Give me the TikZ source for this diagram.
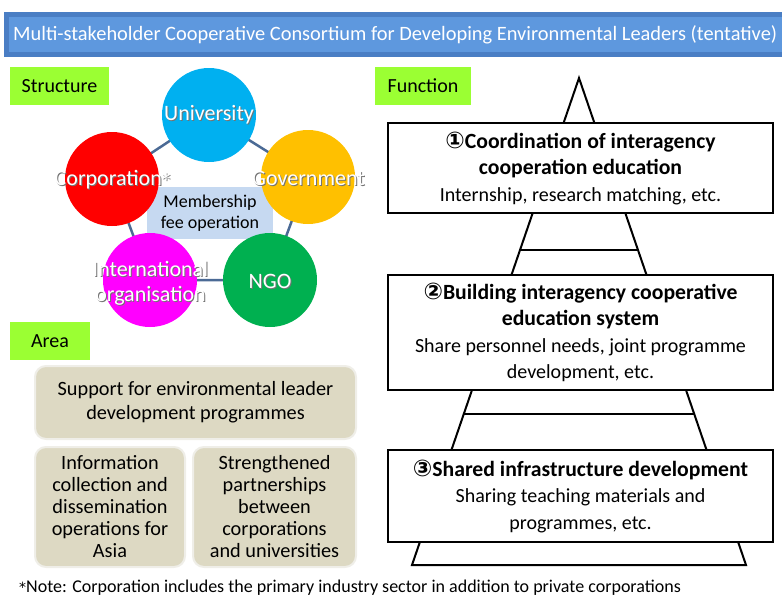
\documentclass[tikz,border=0pt]{standalone}
\usepackage{fontspec}
\setmainfont{Carlito}
\newfontfamily\symf{DejaVu Sans}
\definecolor{titleout}{HTML}{4A7EC4}
\definecolor{titlein}{HTML}{5E98DE}
\definecolor{lime}{HTML}{9BFF33}
\definecolor{cuniv}{HTML}{00B0F0}
\definecolor{ccorp}{HTML}{FF0000}
\definecolor{cgov}{HTML}{FFC000}
\definecolor{cngo}{HTML}{00B050}
\definecolor{cintl}{HTML}{FF00FF}
\definecolor{penta}{HTML}{4B6A95}
\definecolor{memb}{HTML}{C6D9F1}
\definecolor{tan}{HTML}{DDD9C3}
\definecolor{tanrim}{HTML}{EFEEE8}
\newcommand{\bigast}{{\symf\fontsize{17}{20}\selectfont *}}
\newcommand{\circnum}[1]{{\symf\fontsize{23}{26}\selectfont #1}}
\begin{document}
\begin{tikzpicture}[x=1pt,y=-1pt,
  tag/.style={fill=lime,inner sep=0pt,font=\fontsize{20}{24}\selectfont},
  actor/.style={circle,minimum size=94pt,inner sep=0pt},
  clab/.style={text=white,align=center,font=\fontsize{22}{25}\selectfont},
  cshadow/.style={text=black!55,align=center,font=\fontsize{22}{25}\selectfont},
  link/.style={draw=penta,line width=2.5pt},
  fbox/.style={draw=black,line width=2pt,fill=white,minimum width=385pt,align=center,inner sep=0pt,font=\fontsize{20}{26.5}\selectfont},
  abox/.style={draw=tanrim,line width=2pt,fill=tan,rounded corners=11pt,align=center,inner sep=0pt,font=\fontsize{20.3}{22}\selectfont},
  pyr/.style={draw=black,line width=2pt}]
\useasboundingbox (0,0) rectangle (782,598);
% title bar
\fill[titleout] (4,12) rectangle (782,57);
\fill[titlein] (9,17) rectangle (782,52);
\node[anchor=west,text=white,inner sep=0pt,font=\fontsize{20.4}{22}\selectfont] (title) at (13,35) {Multi-stakeholder Cooperative Consortium for Developing Environmental Leaders (tentative)};
% tags
\node[tag,minimum width=99pt,minimum height=38pt] (tstruct) at (59.5,86) {Structure};
\node[tag,minimum width=96pt,minimum height=38pt] (tfunc) at (423,86) {Function};
\node[tag,minimum width=80pt,minimum height=38pt] (tarea) at (50,341) {Area};
% structure
\coordinate (pu) at (209,115);
\coordinate (pc) at (112,179);
\coordinate (pg) at (308,177);
\coordinate (pn) at (270,280);
\coordinate (pi) at (150,280);
\draw[link] (pu) -- (pg) -- (pn) -- (pi) -- (pc) -- cycle;
\node[fill=memb,minimum width=126pt,minimum height=52pt,inner sep=0pt,align=center,font=\fontsize{18}{21}\selectfont] (memb) at (210,213) {Membership\\fee operation};
\node[actor,fill=cuniv] (univ) at (pu) {};
\node[actor,fill=ccorp] (corp) at (pc) {};
\node[actor,fill=cgov] (gov) at (pg) {};
\node[actor,fill=cngo] (ngo) at (pn) {};
\node[actor,fill=cintl] (intl) at (pi) {};
\node[cshadow] at ([shift={(1,1)}]univ) {University};
\node[clab] (luniv) at (univ) {University};
\node[cshadow] at (113.5,181) {Corporation\bigast};
\node[clab] (lcorp) at (112.5,180) {Corporation\bigast};
\node[cshadow] at (309.5,179) {Government};
\node[clab] (lgov) at (308.5,178) {Government};
\node[cshadow] at (271,282) {NGO};
\node[clab] (lngo) at (270,281) {NGO};
\node[cshadow] at (151.5,284) {International\\organisation};
\node[clab] (lintl) at (150.5,283) {International\\organisation};
% pyramid
\coordinate (apex) at (579,78);
\coordinate (bl) at (412,565);
\coordinate (br) at (746,565);
\draw[pyr,line join=miter] (apex) -- (bl) -- (br) -- cycle;
\coordinate (h1l) at (520,250); \coordinate (h1r) at (638,250);
\coordinate (h2l) at (464,414); \coordinate (h2r) at (694,414);
\draw[pyr] (h1l) -- (h1r);
\draw[pyr] (h2l) -- (h2r);
\node[fbox,minimum height=90pt] (f1) at (580.5,168) {{\fontsize{21.7}{26.5}\selectfont\bfseries\circnum{①}Coordination of interagency}\\{\fontsize{21.7}{26.5}\selectfont\bfseries cooperation education}\\Internship, research matching, etc.};
\node[fbox,minimum height=115pt] (f2) at (580.5,332.5) {{\fontsize{21.7}{26.5}\selectfont\bfseries\circnum{②}Building interagency cooperative}\\{\fontsize{21.7}{26.5}\selectfont\bfseries education system}\\Share personnel needs, joint programme\\development, etc.};
\node[fbox,minimum height=92pt] (f3) at (580.5,496) {{\fontsize{21.7}{26.5}\selectfont\bfseries\circnum{③}Shared infrastructure development}\\Sharing teaching materials and\\programmes, etc.};
% area
\node[abox,minimum width=321pt,minimum height=73pt,font=\fontsize{20.3}{24}\selectfont] (a1) at (195.5,402.5) {Support for environmental leader\\development programmes};
\node[abox,minimum width=150pt,minimum height=120pt] (a2) at (110,507) {Information\\collection and\\dissemination\\operations for\\Asia};
\node[abox,minimum width=163pt,minimum height=120pt] (a3) at (274.5,507) {Strengthened\\partnerships\\between\\corporations\\and universities};
% note
\node[anchor=west,inner sep=0pt,font=\fontsize{18}{20}\selectfont] (note) at (19,588) {{\symf\fontsize{14}{16}\selectfont *}Note: Corporation includes the primary industry sector in addition to private corporations};
\end{tikzpicture}
\end{document}
